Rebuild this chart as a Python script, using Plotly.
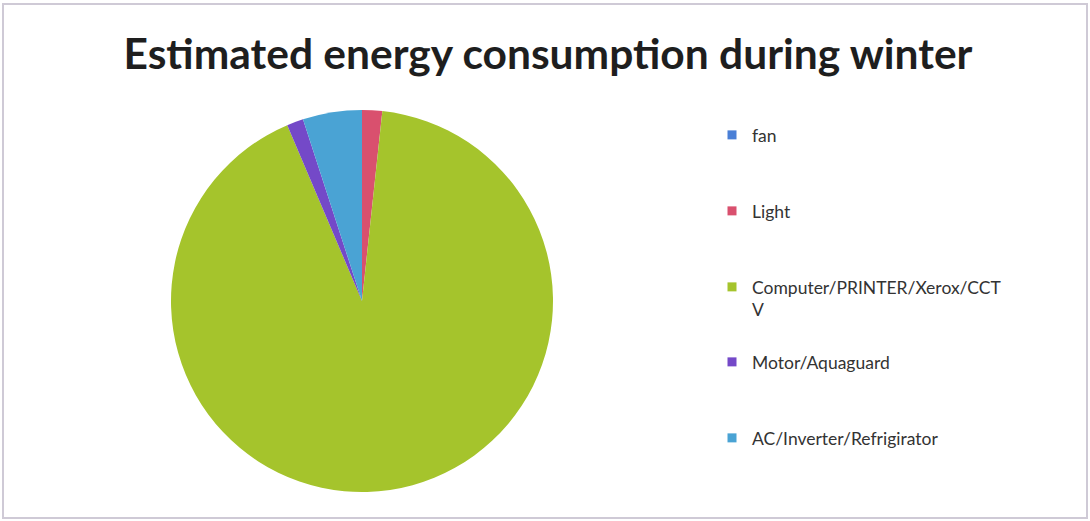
import plotly.graph_objects as go

# Data
categories = ["fan", "Light", "Computer/PRINTER/Xerox/CCTV", "Motor/Aquaguard", "AC/Inverter/Refrigirator"]
legend_labels = ["fan", "Light", "Computer/PRINTER/Xerox/CCT<br>V", "Motor/Aquaguard", "AC/Inverter/Refrigirator"]
values = [0.0, 1.7, 91.9, 1.4, 5.0]
colors = ["#4a7fd6", "#d9506e", "#a5c42c", "#7449c8", "#4aa3d4"]

W, H = 1090, 521

fig = go.Figure()

# pie geometry (pixels)
cx, cy, r = 362, 301, 191
fig.add_trace(go.Pie(
    labels=categories,
    values=values,
    sort=False,
    direction="clockwise",
    rotation=0,
    marker=dict(colors=colors, line=dict(width=0)),
    textinfo="none",
    hoverinfo="label+value",
    showlegend=False,
    domain=dict(x=[(cx - r) / W, (cx + r) / W], y=[1 - (cy + r) / H, 1 - (cy - r) / H]),
))

# Legend entries, each in its own legend so spacing matches the original layout
legend_y_px = [135, 211, 287, 362, 438]
legend_layouts = {}
for i, (lab, col) in enumerate(zip(legend_labels, colors)):
    name = "legend" if i == 0 else f"legend{i+1}"
    fig.add_trace(go.Scatter(
        x=[None], y=[None], mode="markers", name=lab,
        marker=dict(symbol="square", size=9, color=col),
        legend=name, showlegend=True, hoverinfo="skip",
    ))
    legend_layouts[name] = dict(
        x=712 / W, xanchor="left",
        y=1 - (legend_y_px[i] - 18) / H, yanchor="top",
        bgcolor="rgba(0,0,0,0)",
        font=dict(family="Lato", size=17.5, color="#333333"),
        itemwidth=30, valign="top",
    )

fig.update_layout(
    width=W, height=H,
    margin=dict(l=0, r=0, t=0, b=0),
    paper_bgcolor="white", plot_bgcolor="white",
    xaxis=dict(visible=False), yaxis=dict(visible=False),
    title=dict(
        text="<b>Estimated energy consumption during winter</b>",
        x=548 / W, xanchor="center",
        y=1 - 54 / H, yanchor="middle",
        font=dict(family="Lato", size=42.5, color="#1e1e1e"),
    ),
    shapes=[dict(type="rect", xref="paper", yref="paper",
                 x0=3 / W, x1=1087 / W, y0=1 - 518 / H, y1=1 - 4 / H,
                 line=dict(color="#cfcad6", width=2))],
    **legend_layouts,
)

fig.write_html("out.html", config={"displayModeBar": False},
               post_script="document.body.style.margin='0';")
